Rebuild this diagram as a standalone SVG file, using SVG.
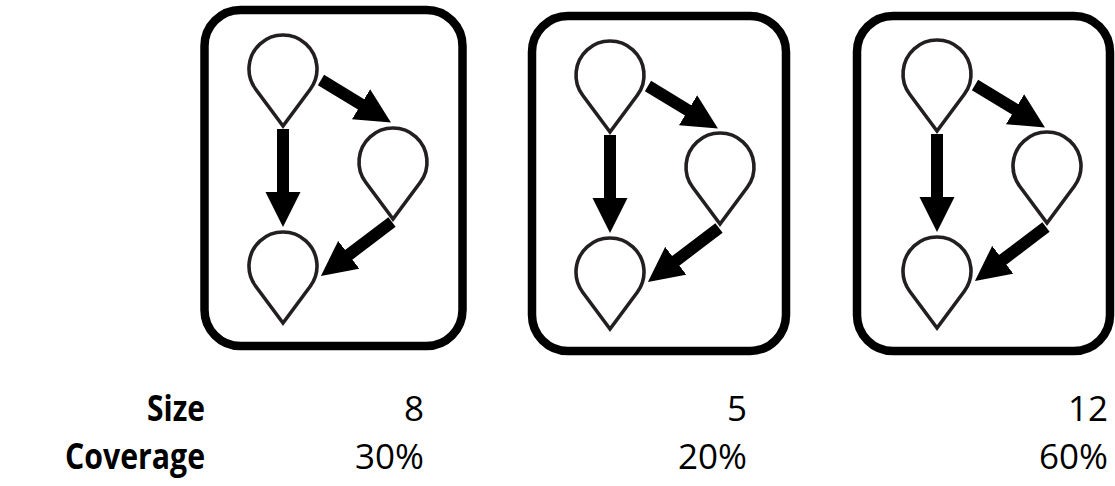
<svg xmlns="http://www.w3.org/2000/svg" xmlns:xlink="http://www.w3.org/1999/xlink" width="1115" height="486" viewBox="0 0 1115 486">
<style>
.box{fill:#fff;stroke:#000;stroke-width:8.5}
.drop{fill:#fff;stroke:#231f20;stroke-width:3.6;stroke-linejoin:miter;stroke-miterlimit:10}
.edge{stroke:#000;stroke-width:12;fill:none}
.lbl{font-family:"Open Sans","Noto Sans",sans-serif;font-size:35px;fill:#000}
.b{font-weight:bold}
.r{text-anchor:end}
</style>
<defs>
<path id="drop" d="M0,57 L-27.3,20.3 A34,34 0 1 1 27.3,20.3 Z"/>
<marker id="ah" markerUnits="userSpaceOnUse" markerWidth="36" markerHeight="36" viewBox="0 -18 36 36" refX="1" refY="0" orient="auto">
<path d="M0,-17.5 L35,0 L0,17.5 Z" fill="#000"/>
</marker>
</defs>

<g id="panel1" transform="translate(283,69)">
<rect class="box" x="-78.5" y="-59" width="258" height="336" rx="36"/>
<g id="p1-a"><use href="#drop" class="drop"/></g>
<g id="p1-b" transform="translate(110,93)"><use href="#drop" class="drop"/></g>
<g id="p1-c" transform="translate(0,197)"><use href="#drop" class="drop"/></g>
<g id="p1-edges">
<line class="edge" x1="0" y1="60" x2="0" y2="124" marker-end="url(#ah)"/>
<line class="edge" x1="38" y1="11" x2="78.9" y2="35.8" marker-end="url(#ah)"/>
<line class="edge" x1="109" y1="153" x2="65" y2="186.4" marker-end="url(#ah)"/>
</g>
</g>

<g id="panel2" transform="translate(610,75)">
<rect class="box" x="-78" y="-59" width="254" height="335" rx="36"/>
<g id="p2-a"><use href="#drop" class="drop"/></g>
<g id="p2-b" transform="translate(110,92)"><use href="#drop" class="drop"/></g>
<g id="p2-c" transform="translate(0,197)"><use href="#drop" class="drop"/></g>
<g id="p2-edges">
<line class="edge" x1="0" y1="60" x2="0" y2="124" marker-end="url(#ah)"/>
<line class="edge" x1="38" y1="11" x2="78.9" y2="35.8" marker-end="url(#ah)"/>
<line class="edge" x1="109" y1="153" x2="65" y2="186.4" marker-end="url(#ah)"/>
</g>
</g>

<g id="panel3" transform="translate(937,74)">
<rect class="box" x="-80" y="-58" width="253" height="335" rx="36"/>
<g id="p3-a"><use href="#drop" class="drop"/></g>
<g id="p3-b" transform="translate(110,92)"><use href="#drop" class="drop"/></g>
<g id="p3-c" transform="translate(0,197)"><use href="#drop" class="drop"/></g>
<g id="p3-edges">
<line class="edge" x1="0" y1="60" x2="0" y2="124" marker-end="url(#ah)"/>
<line class="edge" x1="38" y1="11" x2="78.9" y2="35.8" marker-end="url(#ah)"/>
<line class="edge" x1="109" y1="153" x2="65" y2="186.4" marker-end="url(#ah)"/>
</g>
</g>

<g id="labels">
<text class="lbl b r" x="205" y="421" textLength="58" lengthAdjust="spacingAndGlyphs">Size</text>
<text class="lbl b r" x="205" y="469" textLength="140" lengthAdjust="spacingAndGlyphs">Coverage</text>
<text class="lbl r" x="424" y="421">8</text>
<text class="lbl r" x="424" y="469">30%</text>
<text class="lbl r" x="747" y="421">5</text>
<text class="lbl r" x="747" y="469">20%</text>
<text class="lbl r" x="1108" y="421">12</text>
<text class="lbl r" x="1108" y="469">60%</text>
</g>
</svg>
